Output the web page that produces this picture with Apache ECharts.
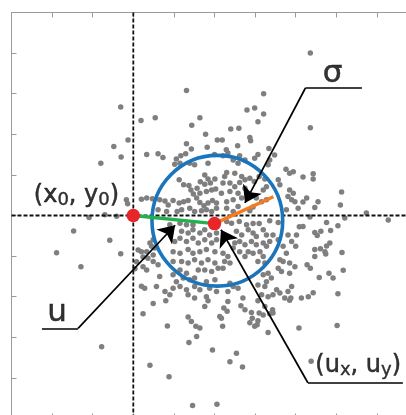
<!DOCTYPE html>
<html>
<head>
<meta charset="utf-8">
<script src="https://cdn.jsdelivr.net/npm/echarts@6/dist/echarts.min.js"></script>
<style>
  html, body { margin: 0; padding: 0; background: #ffffff; }
  #chart { width: 406px; height: 415px; }
</style>
</head>
<body>
<div id="chart"></div>
<script>
// Sample cloud (x, y) around the reference point (x0, y0) = (0, 0)
const sampleX = [
  1.31,-0.31,0.19,0.54,1.64,1.44,-0.13,-0.48,1.31,1.43,0.33,0.61,0.73,-0.30,-0.80,1.29,1.17,1.06,1.15,1.02,
  1.39,1.51,1.13,1.24,1.37,1.42,1.48,-0.17,-0.14,0.20,0.33,0.47,0.98,1.13,1.24,1.35,1.56,1.64,3.21,2.80,
  2.99,3.21,3.07,1.78,2.40,2.60,2.87,2.07,2.19,4.36,4.36,2.57,3.34,1.82,2.29,2.00,2.62,3.48,2.89,1.84,
  1.76,1.84,1.90,1.76,1.65,2.01,1.57,1.64,1.80,1.93,2.03,1.74,1.84,1.95,2.05,1.39,1.19,1.08,1.51,1.68,
  1.80,1.93,2.05,0.65,0.78,0.86,0.82,0.61,
  2.21,2.33,2.46,2.58,2.75,2.99,3.07,3.36,3.32,3.76,3.85,3.94,2.30,2.25,2.50,2.67,2.75,2.87,2.98,3.10,
  3.24,3.57,3.61,2.21,2.38,2.50,2.62,2.75,3.20,3.28,3.85,3.94,3.81,3.90,3.98,2.17,2.38,2.58,2.67,2.46,
  2.30,3.03,3.16,3.28,2.30,2.46,2.58,4.06,3.77,2.95,2.87,
  4.18,4.43,4.43,5.13,4.27,4.18,4.55,4.47,5.10,4.35,5.21,5.74,6.28,4.76,4.18,5.04,4.86,4.47,4.53,4.62,
  4.84,4.76,4.47,4.61,4.72,4.74,5.14,4.47,4.28,4.36,4.82,4.92,4.58,5.17,4.43,4.31,4.14,5.04,
  2.30,2.42,2.61,2.79,2.95,3.10,3.36,3.57,2.83,2.95,3.03,3.20,3.28,3.44,2.54,2.67,2.62,2.75,2.50,2.46,
  2.91,3.03,3.20,3.28,3.36,3.57,3.81,4.02,3.90,4.00,3.77,3.69,2.21,2.33,2.25,2.38,2.21,2.62,2.75,2.83,
  2.95,3.12,3.20,3.07,3.24,3.61,3.69,3.57,3.65,3.85,3.98,3.85,3.20,3.32,3.28,3.40,2.38,2.46,2.33,2.58,
  3.07,3.24,3.53,3.44,3.61,3.81,3.90,3.16,3.32,2.70,3.73,
  0.90,1.15,1.31,1.47,1.19,1.35,1.47,1.64,1.76,1.88,2.05,0.49,0.41,0.45,0.53,1.02,1.15,1.31,1.47,1.60,
  1.76,1.93,2.05,0.20,0.33,0.49,0.36,0.98,1.15,1.35,1.47,1.64,1.80,2.01,0.98,1.19,1.35,1.51,1.68,1.84,
  2.01,0.49,0.61,0.24,0.33,1.15,1.31,1.60,1.76,1.93,2.09,0.98,1.06,1.23,1.39,1.51,1.80,2.01,0.65,0.57,
  0.28,0.98,1.15,1.31,1.51,1.64,1.88,2.05,0.78,0.90,1.35,1.51,1.80,
  0.24,0.49,0.80,0.84,1.35,1.43,1.54,1.64,1.37,1.56,1.76,1.84,2.13,2.17,2.20,2.23,2.31,2.33,1.95,2.54,
  2.38,2.69,2.65,2.75,2.91,2.87,2.99,3.05,2.93,3.07,3.10,3.20,3.07,3.24,3.32,3.43,3.44,3.36,3.85,4.08,
  0.41,0.88,1.46,2.06,
  -1.47,-0.58,-1.89,-1.29,-0.31,-0.78,0.12,0.24,0.08,0.04,0.20,-1.09,-0.70,-0.41,5.02,4.38,4.09,3.88
];
const sampleY = [
  3.08,2.67,2.34,2.41,2.41,2.22,1.86,1.70,1.77,1.64,1.50,1.52,1.43,1.44,1.29,1.52,1.47,1.39,1.29,1.26,
  1.29,1.25,0.88,0.76,0.74,0.63,0.53,0.39,0.29,0.40,0.43,0.41,0.37,0.31,0.34,0.37,0.43,0.32,3.00,2.60,
  2.65,2.50,2.31,2.00,2.13,2.15,1.92,1.86,1.86,4.00,2.16,1.72,1.65,1.68,1.62,1.50,1.47,1.49,1.84,1.29,
  1.00,0.90,0.80,0.77,0.83,0.90,0.67,0.55,0.59,0.63,0.65,0.24,0.31,0.37,0.31,0.18,0.14,0.10,0.10,0.12,
  0.14,0.10,0.18,0.39,0.36,0.26,0.10,0.14,
  1.47,1.54,1.37,1.29,1.37,1.41,1.50,1.37,1.25,1.14,1.04,1.08,1.06,0.96,1.04,0.96,0.88,0.92,0.84,0.96,
  0.90,0.88,0.76,0.80,0.80,0.71,0.81,0.67,0.63,0.71,0.63,0.55,0.47,0.39,0.34,0.55,0.59,0.55,0.43,0.39,
  0.34,0.43,0.34,0.39,0.18,0.10,0.22,0.18,0.14,0.21,0.12,
  0.95,1.03,0.90,0.58,0.43,0.33,0.34,0.20,0.26,-0.04,-0.06,0.06,-0.11,-0.17,-0.27,-0.25,-0.37,-0.42,-0.49,-0.39,
  -0.68,-0.75,-0.84,-0.82,-0.89,-0.95,-0.91,-1.01,-1.21,-1.30,-1.42,-1.54,-1.53,-1.35,-1.90,-2.00,-2.03,-1.93,
  -0.15,-0.19,-0.15,-0.23,-0.20,-0.20,-0.13,-0.17,-0.35,-0.43,-0.52,-0.35,-0.48,-0.48,-0.39,-0.48,-0.64,-0.72,-0.68,-0.80,
  -0.64,-0.72,-0.68,-0.76,-0.64,-0.60,-0.48,-0.48,-0.64,-0.76,-0.93,-0.76,-0.93,-1.01,-1.13,-1.17,-1.30,-0.89,-1.01,-0.89,
  -0.93,-0.89,-1.01,-1.13,-1.17,-1.09,-1.13,-1.30,-1.38,-1.17,-1.26,-1.42,-1.46,-1.42,-1.63,-1.54,-1.67,-1.75,-1.87,-1.79,
  -1.71,-1.75,-1.83,-1.95,-1.91,-1.87,-1.75,-1.95,-2.00,-2.03,-2.03,
  -0.23,-0.19,-0.23,-0.23,-0.39,-0.43,-0.35,-0.43,-0.35,-0.48,-0.43,-0.60,-0.68,-0.76,-0.80,-0.64,-0.56,-0.64,-0.56,-0.68,
  -0.60,-0.68,-0.60,-0.89,-0.89,-0.97,-1.05,-0.89,-0.93,-0.84,-0.93,-0.89,-0.84,-0.89,-1.13,-1.13,-1.17,-1.09,-1.17,-1.09,
  -1.17,-1.13,-1.21,-1.26,-1.34,-1.34,-1.42,-1.34,-1.34,-1.38,-1.30,-1.46,-1.63,-1.54,-1.58,-1.54,-1.63,-1.58,-1.50,-1.75,
  -1.79,-1.79,-1.75,-1.83,-1.75,-1.83,-1.79,-1.87,-1.87,-1.95,-1.95,-2.03,-2.00,
  -2.42,-2.17,-2.10,-2.72,-2.50,-2.61,-2.73,-2.77,-3.13,-2.98,-2.24,-2.10,-2.49,-2.53,-2.73,-2.28,-2.36,-2.12,-3.31,-3.39,
  -3.60,-3.73,-2.22,-2.32,-2.39,-2.64,-2.73,-2.69,-2.53,-2.59,-2.40,-2.45,-2.10,-2.24,-2.88,-2.32,-2.40,-2.42,-2.09,-2.77,
  -3.69,-3.97,-4.68,-4.65,
  -0.38,-0.61,-0.92,-1.26,-0.94,-3.23,-0.85,-1.02,-1.14,-1.31,-1.74,-0.05,0.02,-0.02,-2.71,-3.59,-0.28,-2.03
];

// Key positions
const refPoint = [0, 0];          // (x0, y0)
const meanPoint = [2.0, -0.2];    // (ux, uy)
const circleCenter = [2.07, -0.13];
const circleRadius = 1.61;
const sigmaEnd = [3.45, 0.46];

// Axis ranges
const xRange = [-3, 7];
const yRange = [-5, 5];

// Annotation leaders: label shelf end -> knee -> arrow tip
const leaderSigma = [[5.63, 3.14], [4.24, 3.14], [2.75, 0.31]];
const leaderU = [[-2.25, -2.78], [-1.36, -2.78], [1.03, -0.24]];
const leaderMean = [[6.64, -4.12], [4.30, -4.12], [2.16, -0.35]];

// Annotation texts and their anchors
const labelTexts = ['σ', 'u', '(u{s|x}, u{s|y})', '(x{s|0}, y{s|0})'];
const labelAnchors = [[4.91, 3.49], [-1.88, -2.40], [5.54, -3.70], [-1.40, 0.49]];
const labelSizes = [31, 31, 24, 24];

const samples = sampleX.map((x, i) => [x, sampleY[i]]);
const leaders = [leaderSigma, leaderU, leaderMean];

const axisColor = '#9a9a9a';
function makeAxis(pos, range) {
  return {
    type: 'value', position: pos, min: range[0], max: range[1], interval: 1,
    axisLine: { show: true, onZero: false, lineStyle: { color: axisColor, width: 1 } },
    axisTick: { show: true, inside: true, length: 5, lineStyle: { color: axisColor, width: 1 } },
    axisLabel: { show: false },
    splitLine: { show: false }
  };
}

const chart = echarts.init(document.getElementById('chart'), null, { renderer: 'canvas' });
const fontFamily = '"DejaVu Sans", Verdana, sans-serif';
const inkColor = '#000000';

chart.setOption({
  animation: false,
  backgroundColor: '#ffffff',
  grid: { left: 11.5, top: 12.5, width: 406, height: 406, containLabel: false, outerBoundsMode: 'none' },
  xAxis: [makeAxis('bottom', xRange), makeAxis('top', xRange)],
  yAxis: [makeAxis('left', yRange), makeAxis('right', yRange)],
  series: [
    {
      type: 'scatter', name: 'samples', data: samples, symbolSize: 5.5,
      itemStyle: { color: '#7f7f7f', opacity: 1 }, silent: true, z: 2
    },
    {
      type: 'line', name: 'x0 guide', data: [[refPoint[0], yRange[0]], [refPoint[0], yRange[1]]],
      showSymbol: false, silent: true, z: 3,
      lineStyle: { color: '#111', width: 1.8, type: [4, 2] }
    },
    {
      type: 'line', name: 'y0 guide', data: [[xRange[0], refPoint[1]], [xRange[1], refPoint[1]]],
      showSymbol: false, silent: true, z: 3,
      lineStyle: { color: '#111', width: 1.8, type: [4, 2] }
    },
    {
      type: 'custom', name: 'sigma circle', silent: true, z: 4,
      data: [[circleCenter[0], circleCenter[1], circleRadius]],
      renderItem: function (params, api) {
        const c = api.coord([api.value(0), api.value(1)]);
        const r = api.size([api.value(2), 0])[0];
        return {
          type: 'circle',
          shape: { cx: c[0], cy: c[1], r: r },
          style: { fill: 'none', stroke: '#1b75bc', lineWidth: 3.6 }
        };
      }
    },
    {
      type: 'line', name: 'u', data: [refPoint, meanPoint], showSymbol: false, silent: true, z: 5,
      lineStyle: { color: '#22b14c', width: 3.4 }
    },
    {
      type: 'line', name: 'sigma', data: [meanPoint, sigmaEnd], showSymbol: false, silent: true, z: 5,
      lineStyle: { color: '#f47b20', width: 3.4 }
    },
    {
      type: 'scatter', name: 'points', data: [refPoint, meanPoint], symbolSize: 13.5, silent: true, z: 6,
      itemStyle: { color: '#e8262a', opacity: 1 }
    },
    {
      // label shelves
      type: 'lines', name: 'shelves', coordinateSystem: 'cartesian2d', silent: true, z: 7,
      symbol: ['none', 'none'],
      lineStyle: { color: inkColor, width: 1.7, opacity: 1 },
      data: leaders.map(c => ({ coords: [c[0], c[1]] }))
    },
    {
      // pointer arrows
      type: 'lines', name: 'arrows', coordinateSystem: 'cartesian2d', silent: true, z: 7,
      symbol: ['none', 'arrow'], symbolSize: 16,
      lineStyle: { color: inkColor, width: 1.7, opacity: 1 },
      data: leaders.map(c => ({ coords: [c[1], c[2]] }))
    },
    {
      type: 'scatter', name: 'labels', silent: true, z: 8, symbolSize: 1,
      itemStyle: { color: 'rgba(0,0,0,0)' },
      data: labelAnchors.map((p, i) => ({
        value: p, text: labelTexts[i],
        label: {
          fontSize: labelSizes[i], lineHeight: labelSizes[i] + 4,
          rich: {
            s: {
              fontSize: 18, fontFamily: fontFamily, color: inkColor, verticalAlign: 'bottom', lineHeight: 19,
              textBorderColor: inkColor, textBorderWidth: 0.4
            }
          }
        }
      })),
      label: {
        show: true, position: 'inside', color: inkColor, fontFamily: fontFamily,
        textBorderColor: inkColor, textBorderWidth: 0.5,
        formatter: p => p.data.text
      }
    }
  ]
});
</script>
</body>
</html>
